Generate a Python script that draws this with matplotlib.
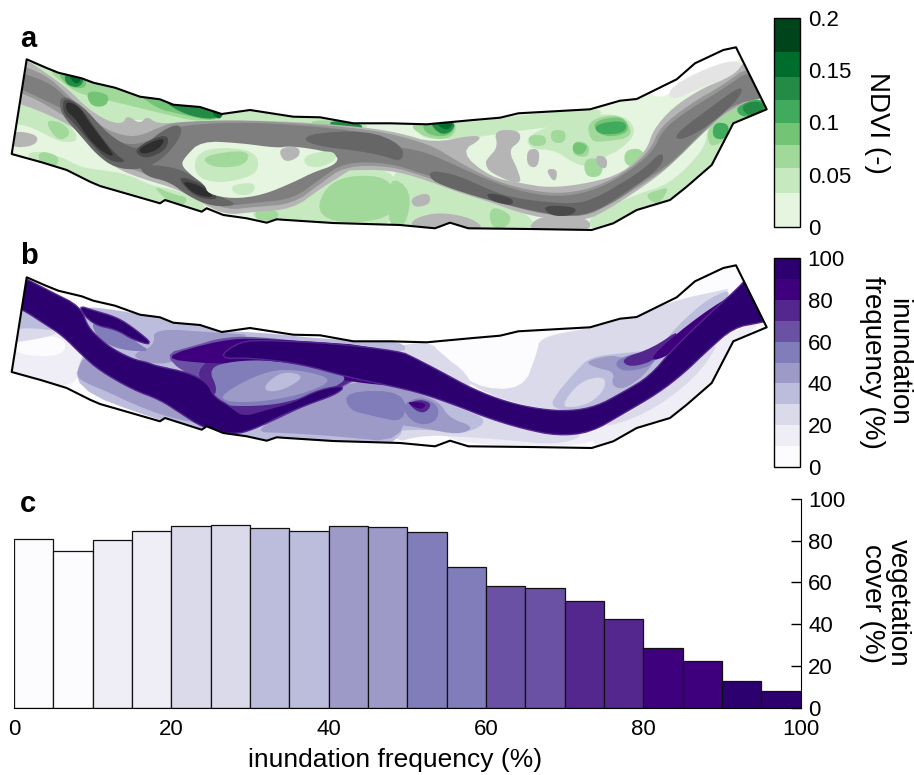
import numpy as np
import matplotlib
matplotlib.use("Agg")
import matplotlib.pyplot as plt
from matplotlib.cm import ScalarMappable
from matplotlib.colors import BoundaryNorm, ListedColormap
from matplotlib.patches import Polygon

plt.rcParams["font.family"] = ["Liberation Sans", "DejaVu Sans"]

# bar chart values
freq_edges = [0, 5, 10, 15, 20, 25, 30, 35, 40, 45, 50, 55, 60, 65, 70, 75, 80, 85, 90, 95]
veg_cover = [80.7, 75.1, 80.5, 84.8, 87.2, 87.7, 86.1, 84.8, 87.2, 86.6,
             84.2, 67.6, 58.3, 57.5, 51.1, 42.5, 28.4, 22.4, 12.8, 8.1]

ndvi_levels = [0, 0.033, 0.056, 0.078, 0.1, 0.122, 0.144, 0.167, 0.2]
ndvi_ticks = [0, 0.05, 0.1, 0.15, 0.2]
ndvi_labels = ["0", "0.05", "0.1", "0.15", "0.2"]
inund_levels = [0, 10, 20, 30, 40, 50, 60, 70, 80, 90, 100]
inund_ticks = [0, 20, 40, 60, 80, 100]

greens = ["#e5f5e0", "#c7e9c0", "#a1d99b", "#74c476", "#41ab5d", "#238b45", "#006d2c", "#00441b"]
purples = ["#fcfbfd", "#efedf5", "#dadaeb", "#bcbddc", "#9e9ac8", "#807dba", "#6a51a3", "#54278f", "#3f007d", "#2d006f"]
grays = ["#e4e4e4", "#b5b5b5", "#969696", "#7e7e7e", "#666666", "#4a4a4a", "#2e2e2e"]

# reach outline (panel a position)
outline = [(26.7, 59.3), (45, 67.3), (58.3, 72.7), (81.7, 78.3), (93.3, 82.7), (115, 87.7), (140, 96.7),
           (160, 99.3), (173.3, 104.7), (200, 107), (221.7, 114), (250, 110), (293.3, 116.7), (320, 117.3),
           (353.3, 123.3), (390, 123.3), (426.7, 124.3), (473.3, 120), (500, 117.7), (518.3, 113.3),
           (590, 109.3), (620, 100.7), (636.7, 99), (676.7, 79.3), (695, 63.3), (723.3, 50), (736, 47.3),
           (766.7, 109.3), (733.3, 123.3), (711.7, 165), (686.7, 186.7), (670, 200), (636.7, 210),
           (613.3, 223.3), (591.7, 230), (530, 229), (468.3, 228.3), (450, 222.7), (435, 228.3), (400, 225),
           (333, 223), (286.7, 220), (276.7, 219.3), (266.7, 222.7), (246.7, 218.3), (223.3, 215),
           (206.7, 208.3), (201.7, 211.7), (165, 200), (160, 203.3), (100, 186), (90, 181.7), (66.7, 170),
           (41.7, 162.3), (11.7, 154)]
panel_b_shift = 218

# panel a, green patches
a_g1 = [[(14, 104), (37, 107), (60, 116), (76, 132), (77, 142), (60, 142), (45, 134), (28, 126), (14, 124)],
        [(28, 150), (60, 156), (80, 167), (100, 170), (127, 174), (152, 186), (177, 190), (205, 204), (205, 214),
         (187, 210), (160, 204), (100, 189), (67, 174), (30, 163)],
        [(347, 168), (400, 170), (400, 228), (320, 228), (255, 222), (252, 208), (293, 205), (320, 185)],
        [(390, 167), (423, 175), (457, 189), (490, 200), (523, 210), (540, 230), (490, 231), (470, 224), (390, 229)],
        [(587, 216), (637, 194), (670, 184), (704, 150), (708, 128), (712, 120), (733, 106), (738, 124), (716, 168),
         (672, 204), (637, 214), (593, 233)],
        [(526, 137), (553, 124), (587, 114), (626, 115), (637, 133), (620, 150), (606, 156), (592, 167), (575, 164),
         (555, 150), (530, 149)],
        [(420, 124), (473, 122), (507, 117), (606, 106), (595, 122), (523, 130), (473, 138), (420, 140)],
        [(20, 58), (67, 74), (117, 86), (160, 96), (200, 104), (223, 112), (253, 108), (310, 116), (353, 121),
         (368, 125), (365, 130), (320, 129), (300, 123), (253, 120), (220, 126), (157, 126), (147, 120), (127, 120),
         (117, 127), (103, 127), (83, 112), (63, 92), (40, 77)]]
a_g2 = [[(44, 120), (62, 122), (72, 134), (58, 142)],
        [(38, 150), (60, 156), (56, 168), (40, 165)],
        [(150, 184), (172, 194), (190, 198), (178, 210)],
        [(326, 186), (350, 175), (388, 177), (398, 200), (388, 219), (340, 224), (316, 212)],
        [(388, 175), (412, 190), (406, 227), (388, 229)],
        [(490, 205), (513, 215), (506, 229), (490, 227)],
        [(257, 207), (280, 211), (276, 221), (254, 220)],
        [(644, 195), (658, 190), (670, 187), (658, 206)],
        [(707, 128), (723, 116), (743, 101), (760, 98), (770, 110), (735, 126), (722, 143), (709, 147)],
        [(587, 120), (622, 113), (635, 137), (603, 142), (590, 141)],
        [(584, 158), (603, 159), (602, 177), (585, 177)],
        [(624, 150), (643, 148), (645, 165), (625, 167)],
        [(528, 135), (546, 135), (546, 146), (530, 146)],
        [(550, 130), (566, 130), (565, 143), (552, 143)],
        [(574, 140), (590, 144), (588, 158), (572, 155)],
        [(46, 68), (80, 74), (133, 93), (160, 96), (200, 104), (230, 113), (203, 123), (160, 113), (107, 100),
         (80, 94), (64, 84)],
        [(306, 119), (366, 123), (356, 135), (320, 131)],
        [(409, 124), (436, 122), (457, 122), (454, 136), (440, 140), (420, 135)]]
a_g3 = [[(590, 122), (623, 115), (631, 133), (603, 138)],
        [(574, 141), (589, 145), (582, 156), (572, 152)],
        [(56, 71), (86, 77), (86, 89), (68, 87)],
        [(136, 93), (160, 96), (200, 104), (227, 110), (215, 122), (180, 114), (158, 109)],
        [(86, 90), (110, 94), (106, 107), (90, 106)],
        [(422, 122), (456, 122), (452, 134), (440, 137), (425, 133)]]
a_g4 = [[(714, 122), (730, 124), (726, 140), (712, 138)],
        [(734, 107), (760, 97), (770, 110), (743, 119)],
        [(594, 124), (626, 120), (626, 133), (598, 135)]]
a_g5 = [[(740, 105), (760, 100), (766, 110), (748, 117)],
        [(64, 73), (85, 77), (80, 88), (66, 85)],
        [(160, 99), (200, 104), (224, 111), (215, 120), (185, 115)],
        [(327, 120), (366, 124), (356, 133), (335, 130)],
        [(428, 121), (456, 121), (452, 132), (440, 135)]]
a_g6 = [[(67, 73), (83, 77), (76, 86)],
        [(210, 110), (225, 111), (219, 121)],
        [(433, 121), (455, 121), (447, 132)]]

# panel a, gray channels
a_white = [(645, 90), (677, 72), (695, 56), (723, 43), (740, 40), (745, 60), (710, 68), (680, 87), (660, 99)]
a_gray0 = [(667, 90), (697, 72), (737, 58), (745, 72), (703, 86), (673, 101)]
a_gray1 = [(5, 55), (27, 60), (43, 71), (67, 88), (87, 108), (107, 121), (123, 124), (127, 115), (140, 124),
           (147, 116), (157, 124), (187, 122), (233, 120), (300, 122), (363, 127), (400, 133), (433, 143), (473, 135),
           (483, 138), (460, 152), (490, 177), (520, 183), (550, 188), (590, 183), (623, 173), (647, 150), (653, 130),
           (673, 107), (703, 88), (723, 80), (737, 72), (745, 60), (785, 85), (757, 97), (743, 104), (723, 115),
           (710, 127), (690, 145), (667, 169), (640, 189), (607, 210), (587, 220), (557, 220), (523, 214), (490, 202),
           (457, 192), (423, 179), (390, 170), (350, 170), (347, 172), (320, 189), (293, 209), (253, 212), (227, 215),
           (203, 204), (177, 189), (143, 179), (117, 169), (97, 152), (80, 132), (60, 120), (30, 107), (5, 100)]
a_gray1_patches = [[(12, 130), (39, 135), (35, 146), (10, 148)],
                   [(410, 198), (429, 192), (431, 204), (414, 208)],
                   [(414, 218), (440, 212), (472, 218), (486, 230), (437, 232), (410, 228)],
                   [(538, 215), (590, 217), (590, 233), (526, 233)],
                   [(488, 158), (498, 147), (494, 130), (519, 130), (521, 141), (508, 150), (518, 170), (522, 186),
                    (490, 173), (485, 163)],
                   [(527, 149), (540, 149), (538, 168), (527, 166)],
                   [(545, 169), (558, 169), (555, 184)],
                   [(595, 155), (607, 157), (607, 169), (598, 167)]]
a_gray2 = [(5, 60), (45, 74), (67, 94), (87, 114), (105, 129), (125, 136), (140, 136), (160, 127), (175, 122),
           (233, 120), (300, 123), (365, 129), (400, 136), (433, 146), (457, 161), (490, 179), (523, 189), (557, 194),
           (590, 189), (623, 174), (650, 151), (660, 127), (690, 104), (723, 85), (750, 65), (785, 85), (745, 101),
           (723, 114), (705, 131), (670, 166), (640, 186), (607, 206), (587, 216), (557, 216), (523, 210), (490, 198),
           (457, 188), (423, 176), (390, 166), (345, 166), (320, 184), (293, 204), (253, 207), (227, 210), (205, 199),
           (178, 184), (145, 174), (118, 164), (100, 148), (83, 128), (60, 113), (30, 96), (5, 88)]
a_gray3 = [(5, 68), (47, 81), (67, 98), (87, 118), (103, 134), (123, 144), (140, 144), (163, 134), (177, 126),
           (233, 122), (300, 125), (367, 132), (390, 146), (423, 151), (457, 166), (490, 181), (523, 192), (557, 197),
           (590, 192), (623, 176), (653, 152), (663, 129), (690, 109), (723, 89), (753, 68), (780, 95), (737, 103),
           (720, 114), (700, 134), (670, 164), (643, 181), (617, 201), (590, 213), (560, 214), (530, 208), (490, 194),
           (457, 184), (423, 174), (390, 163), (345, 162), (320, 179), (293, 199), (253, 203), (227, 206), (205, 195),
           (180, 179), (147, 171), (120, 161), (103, 146), (87, 124), (60, 107), (5, 82)]
a_gray4 = [[(60, 94), (82, 105), (105, 131), (123, 144), (140, 150), (161, 131), (180, 123), (182, 136), (162, 160),
            (140, 170), (115, 168), (97, 155), (80, 135), (60, 113)],
           [(138, 164), (175, 167), (196, 178), (216, 195), (240, 205), (213, 207), (188, 196), (170, 182), (145, 176)],
           [(430, 170), (457, 175), (490, 190), (510, 197), (543, 202), (577, 204), (597, 197), (610, 190), (643, 170),
            (663, 150), (663, 166), (625, 193), (590, 215), (560, 216), (528, 210), (488, 200), (455, 190), (430, 180)],
           [(674, 135), (707, 110), (743, 84), (740, 98), (709, 126), (680, 141)],
           [(304, 134), (367, 130), (403, 145), (403, 163), (375, 153), (308, 145)]]
a_gray5 = [[(63, 97), (80, 106), (97, 131), (114, 153), (128, 163), (108, 161), (90, 142), (73, 122), (63, 113)],
           [(132, 149), (168, 132), (168, 149), (145, 160)],
           [(175, 175), (202, 183), (222, 200), (195, 198)],
           [(486, 192), (513, 198), (513, 206), (490, 201)],
           [(542, 205), (578, 207), (572, 216), (550, 216)]]
a_gray6 = [[(66, 101), (79, 106), (89, 122), (102, 139), (116, 158), (102, 152), (88, 138), (75, 118), (66, 111)],
           [(138, 148), (166, 136), (160, 149), (142, 155)],
           [(180, 180), (202, 186), (216, 198), (195, 195)]]

# panel a, island in the split of the channel
a_island = [(185, 157), (201, 141), (240, 143), (277, 148), (290, 146), (320, 150), (339, 156), (335, 165), (314, 172),
            (294, 182), (263, 195), (233, 199), (208, 194), (205, 185), (191, 175), (181, 165)]
a_island_g1 = [[(195, 156), (213, 147), (255, 150), (260, 171), (240, 180), (213, 183), (195, 175)],
               [(304, 155), (332, 150), (338, 159), (320, 168), (305, 166)],
               [(230, 185), (256, 182), (253, 195), (235, 195)]]
a_island_g2 = [[(200, 156), (250, 149), (246, 166), (212, 168)]]
a_island_gray = [[(278, 148), (299, 146), (300, 157), (284, 163)]]

# panel b, inundation patches (picture position)
b_p1 = [[(5, 335), (63, 330), (85, 350), (75, 392), (0, 376)],
        [(590, 430), (623, 414), (683, 377), (723, 335), (765, 320), (735, 345), (713, 386), (670, 424), (640, 434),
         (596, 451)],
        [(523, 390), (537, 353), (556, 350), (553, 375), (535, 399), (507, 402), (488, 390)],
        [(445, 425), (560, 433), (600, 430), (590, 447), (450, 444)]]
b_p0 = [[(16, 338), (65, 335), (65, 357), (14, 355)]]
b_p2 = [[(8, 312), (35, 317), (65, 333), (22, 342), (8, 342)],
        [(430, 345), (447, 357), (473, 387), (523, 390), (537, 353), (540, 337), (590, 328), (620, 320), (677, 300),
         (713, 292), (737, 287), (650, 360), (623, 390), (590, 410), (540, 410), (473, 390)],
        [(595, 430), (643, 405), (690, 368), (723, 338), (695, 379), (645, 415)],
        [(390, 385), (423, 393), (457, 405), (523, 428), (557, 435), (587, 435), (557, 445), (507, 440), (467, 437),
         (423, 435), (390, 444)],
        [(385, 348), (430, 341), (442, 355), (467, 373), (473, 392), (385, 362)]]
b_p3 = [[(10, 308), (33, 313), (60, 331), (33, 328), (12, 329)],
        [(557, 393), (577, 370), (590, 357), (623, 353), (657, 350), (680, 323), (710, 297), (737, 288), (690, 343),
         (650, 377), (607, 407), (573, 412), (550, 407)],
        [(84, 350), (72, 388), (157, 420), (207, 431), (233, 437), (258, 445), (333, 447), (405, 447), (405, 380),
         (300, 365), (220, 365), (133, 360), (100, 335)],
        [(78, 306), (117, 310), (160, 318), (200, 325), (220, 331), (267, 333), (333, 340), (405, 341), (405, 355),
         (300, 345), (220, 360), (160, 365), (113, 350), (85, 327)],
        [(385, 385), (423, 393), (457, 407), (490, 420), (467, 434), (423, 429), (385, 432)]]
b_p2_on3 = [[(580, 381), (605, 376), (605, 389), (592, 402), (577, 407), (560, 407)]]
b_p4 = [[(584, 362), (610, 355), (623, 358), (656, 358), (645, 375), (623, 390), (611, 385), (615, 372), (597, 368)],
        [(385, 385), (410, 391), (439, 401), (449, 418), (475, 427), (459, 435), (423, 428), (385, 423)],
        [(153, 328), (220, 333), (258, 335), (187, 356), (160, 366), (128, 356), (155, 346)],
        [(85, 354), (100, 367), (133, 385), (180, 409), (207, 425), (167, 417), (133, 404), (108, 392), (88, 384),
         (75, 376)],
        [(250, 432), (307, 403), (350, 380), (405, 385), (405, 443), (333, 436), (287, 433)]]
b_p5 = [[(614, 362), (630, 354), (660, 350), (653, 365), (637, 370), (621, 371)],
        [(400, 406), (420, 396), (440, 406), (436, 423), (415, 425)],
        [(345, 391), (405, 391), (405, 423), (373, 416), (348, 410)],
        [(90, 320), (115, 324), (136, 342), (152, 352), (120, 350), (98, 339)],
        [(135, 362), (175, 368), (170, 375), (140, 372)]]
b_p6 = [[(160, 355), (197, 345), (220, 338), (253, 336), (333, 345), (370, 373), (346, 385), (285, 416), (253, 430),
         (210, 405), (204, 385)]]
b_p7 = [[(620, 359), (653, 348), (683, 327), (659, 359), (630, 368)],
        [(407, 404), (420, 399), (433, 404), (423, 415)],
        [(197, 366), (240, 343), (330, 350), (364, 372), (345, 385), (285, 415), (253, 429), (211, 405), (202, 387)]]
b_p8 = [[(655, 352), (700, 315), (740, 290), (675, 352), (652, 362)],
        [(405, 402), (420, 402), (427, 405), (420, 410)],
        [(158, 358), (220, 340), (260, 338), (405, 348), (405, 387), (350, 382), (300, 370), (250, 362), (210, 364)]]
b_island_p5 = [[(208, 368), (233, 361), (273, 360), (342, 372), (346, 383), (300, 399), (267, 406), (220, 406),
                (211, 398), (218, 390)]]
b_island_p4 = [[(221, 394), (267, 370), (302, 370), (336, 380), (300, 395), (260, 402), (225, 402)]]
b_island_p3 = [[(265, 384), (283, 371), (306, 376), (284, 390), (266, 392)]]
b_channel = [[(5, 270), (27, 280), (50, 292), (80, 307), (87, 327), (100, 340), (113, 350), (133, 360), (147, 363),
              (157, 367), (187, 373), (207, 383), (213, 397), (230, 407), (243, 417), (267, 410), (293, 403), (320, 390),
              (345, 386), (335, 394), (307, 404), (283, 414), (253, 429), (233, 434), (203, 427), (180, 412), (160, 399),
              (133, 389), (100, 370), (83, 355), (63, 335), (43, 322), (23, 309), (5, 302)],
             [(78, 306), (93, 311), (117, 318), (135, 330), (153, 345), (133, 339), (117, 329), (93, 324)],
             [(218, 358), (240, 342), (267, 341), (333, 344), (400, 352), (413, 358), (440, 372), (473, 390),
              (507, 403), (540, 410), (570, 412), (597, 407), (623, 393), (650, 377), (673, 350), (707, 317), (737, 290),
              (748, 278), (790, 315), (760, 322), (733, 327), (707, 350), (683, 373), (657, 393), (623, 413), (590, 432),
              (557, 435), (523, 428), (490, 418), (457, 405), (423, 393), (390, 385), (350, 377), (300, 363), (250, 357)]]


def smooth(pts, rounds=2):
    # corner cutting so the traced shapes do not look like polygons
    pts = np.array(pts, dtype=float)
    for _ in range(rounds):
        nxt = np.roll(pts, -1, axis=0)
        pts = np.column_stack([0.75*pts + 0.25*nxt, 0.25*pts + 0.75*nxt]).reshape(-1, 2)
    return pts


def fill(ax, polys, color, clip, halo=0):
    for p in polys:
        patch = Polygon(smooth(p), closed=True, facecolor=color, edgecolor=color if halo else "none", linewidth=halo)
        ax.add_patch(patch)
        patch.set_clip_path(clip)


fig = plt.figure(figsize=(9.14, 7.75), dpi=100)
W, H = 914, 775

# both maps are traced in picture pixels
ax_map = fig.add_axes([0, 0, 1, 1])
ax_map.set_xlim(0, W)
ax_map.set_ylim(H, 0)
ax_map.axis("off")

outline_a = Polygon(outline, closed=True, facecolor=greens[0], edgecolor="none")
ax_map.add_patch(outline_a)

a_layers = [(a_g1, greens[1]), (a_g2, greens[2]), (a_g3, greens[3]), (a_g4, greens[4]), (a_g5, greens[5]),
            (a_g6, greens[6]), ([a_white], "white"), ([a_gray0], grays[0]), (a_gray1_patches, grays[1]),
            ([a_gray1], grays[1]), ([a_gray2], grays[2]), ([a_gray3], grays[3]), (a_gray4, grays[4]),
            (a_gray5, grays[5]), (a_gray6, grays[6]), ([a_island], greens[0]), (a_island_g1, greens[1]),
            (a_island_g2, greens[2]), (a_island_gray, grays[1])]
for polys, col in a_layers:
    fill(ax_map, polys, col, outline_a)
ax_map.add_patch(Polygon(outline, closed=True, fill=False, edgecolor="black", linewidth=1.5, joinstyle="round"))

outline_b_xy = np.array(outline) + [0, panel_b_shift]
outline_b = Polygon(outline_b_xy, closed=True, facecolor=purples[0], edgecolor="none")
ax_map.add_patch(outline_b)
b_layers = [(b_p1, purples[1]), (b_p0, purples[0]), (b_p2, purples[2]), (b_p3, purples[3]), (b_p2_on3, purples[2]),
            (b_p4, purples[4]), (b_p5, purples[5]), (b_p6, purples[6]), (b_p7, purples[7]), (b_p8, purples[8]),
            (b_island_p5, purples[5]), (b_island_p4, purples[4]), (b_island_p3, purples[3])]
for polys, col in b_layers:
    fill(ax_map, polys, col, outline_b)
# soft edge round the main channel
fill(ax_map, b_channel, purples[7], outline_b, halo=2)
fill(ax_map, b_channel, purples[9], outline_b)
ax_map.add_patch(Polygon(outline_b_xy, closed=True, fill=False, edgecolor="black", linewidth=1.5, joinstyle="round"))


def px_axes(left, top, right, bottom):
    return fig.add_axes([left/W, 1 - bottom/H, (right - left)/W, (bottom - top)/H])


# colour bars
cax_a = px_axes(774, 18, 800, 227)
norm_a = BoundaryNorm(ndvi_levels, len(greens))
cb_a = fig.colorbar(ScalarMappable(norm=norm_a, cmap=ListedColormap(greens)), cax=cax_a,
                    spacing="proportional", ticks=ndvi_ticks)
cb_a.ax.set_yticklabels(ndvi_labels)
cax_b = px_axes(774, 258, 800, 467)
norm_b = BoundaryNorm(inund_levels, len(purples))
cb_b = fig.colorbar(ScalarMappable(norm=norm_b, cmap=ListedColormap(purples)), cax=cax_b,
                    spacing="proportional", ticks=inund_ticks)
for cb in (cb_a, cb_b):
    cb.ax.tick_params(length=0, labelsize=16, pad=5.5)
    cb.ax.minorticks_off()
    cb.outline.set_linewidth(1)
    cb.outline.set_edgecolor("black")

# bars
ax_c = px_axes(14, 499, 800.5, 707.5)
bar_colors = [purples[i//2] for i in range(len(veg_cover))]
ax_c.bar(freq_edges, veg_cover, width=5, align="edge", color=bar_colors, edgecolor="#111111", linewidth=0.9)
ax_c.set_xlim(0, 100)
ax_c.set_ylim(0, 100)
ax_c.spines["top"].set_visible(False)
ax_c.spines["left"].set_visible(False)
ax_c.yaxis.tick_right()
ax_c.set_xticks([0, 20, 40, 60, 80, 100])
ax_c.set_yticks([0, 20, 40, 60, 80, 100])
ax_c.tick_params(axis="x", length=0, labelsize=16, pad=8)
ax_c.tick_params(axis="y", direction="in", length=7, width=1, labelsize=16, pad=5.5)
ax_c.set_xlabel("inundation frequency (%)", fontsize=19)
ax_c.xaxis.set_label_coords(0.484, -0.195)

# labels
fig.text(20/W, 1 - 39/H, "a", fontsize=21, fontweight="bold", ha="left", va="center")
fig.text(20/W, 1 - 256/H, "b", fontsize=21, fontweight="bold", ha="left", va="center")
fig.text(20/W, 1 - 504/H, "c", fontsize=21, fontweight="bold", ha="left", va="center")
fig.text(877/W, 1 - 123/H, "NDVI (-)", fontsize=20, rotation=270, ha="center", va="center")
fig.text(885/W, 1 - 362/H, "inundation\nfrequency (%)", fontsize=20, rotation=270, ha="center", va="center",
         multialignment="center", linespacing=1.0)
fig.text(885/W, 1 - 603/H, "vegetation\ncover (%)", fontsize=20, rotation=270, ha="center", va="center",
         multialignment="center", linespacing=1.0)

fig.savefig("out.png", dpi=100)
